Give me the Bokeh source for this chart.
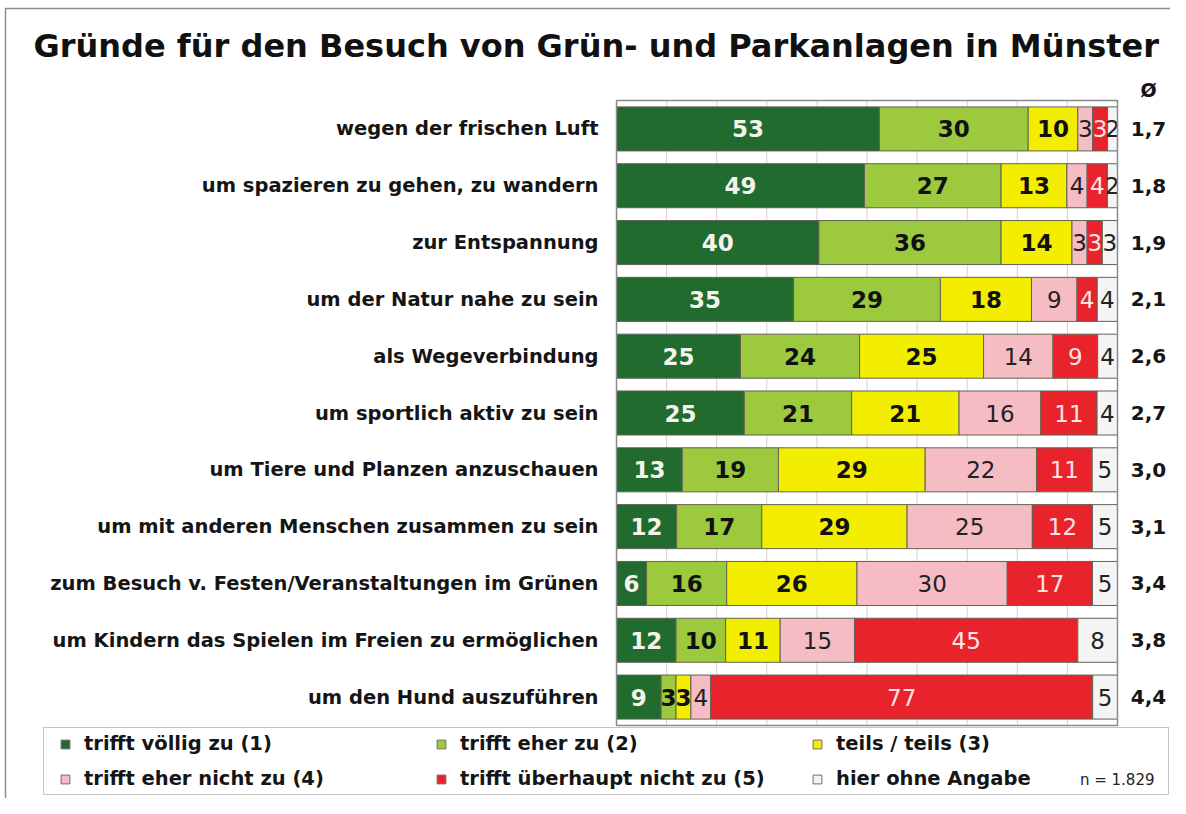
from bokeh.plotting import figure
from bokeh.models import ColumnDataSource, Range1d, Legend, LegendItem
from bokeh.core.properties import value
from bokeh.embed import file_html
from bokeh.resources import INLINE

# ---------------- data ----------------
title = "Gründe für den Besuch von Grün- und Parkanlagen in Münster"
categories = [
    "wegen der frischen Luft",
    "um spazieren zu gehen, zu wandern",
    "zur Entspannung",
    "um der Natur nahe zu sein",
    "als Wegeverbindung",
    "um sportlich aktiv zu sein",
    "um Tiere und Planzen anzuschauen",
    "um mit anderen Menschen zusammen zu sein",
    "zum Besuch v. Festen/Veranstaltungen im Grünen",
    "um Kindern das Spielen im Freien zu ermöglichen",
    "um den Hund auszuführen",
]
trifft_voellig = [53, 49, 40, 35, 25, 25, 13, 12, 6, 12, 9]
trifft_eher = [30, 27, 36, 29, 24, 21, 19, 17, 16, 10, 3]
teils_teils = [10, 13, 14, 18, 25, 21, 29, 29, 26, 11, 3]
eher_nicht = [3, 4, 3, 9, 14, 16, 22, 25, 30, 15, 4]
ueberhaupt_nicht = [3, 4, 3, 4, 9, 11, 11, 12, 17, 45, 77]
ohne_angabe = [2, 2, 3, 4, 4, 4, 5, 5, 5, 8, 5]
averages = ["1,7", "1,8", "1,9", "2,1", "2,6", "2,7", "3,0", "3,1", "3,4", "3,8", "4,4"]
series_labels = [
    "trifft völlig zu (1)",
    "trifft eher zu (2)",
    "teils / teils (3)",
    "trifft eher nicht zu (4)",
    "trifft überhaupt nicht zu (5)",
    "hier ohne Angabe",
]
avg_header = "Ø"
sample_note = "n = 1.829"
grid_ticks = [10, 20, 30, 40, 50, 60, 70, 80, 90]

series = [trifft_voellig, trifft_eher, teils_teils, eher_nicht, ueberhaupt_nicht, ohne_angabe]
colors = ["#216b2f", "#9cc93e", "#f3ee00", "#f5bcc4", "#e8232b", "#f4f4f4"]
text_colors = ["#f4f4ec", "#111111", "#111111", "#222222", "#fde4e4", "#222222"]
text_styles = ["bold", "bold", "bold", "normal", "normal", "normal"]

# ---------------- layout (pixels) ----------------
W, H = 1170, 798
FRAME_L, FRAME_R = 616, 1117          # pixel span of 0..100 %
FRAME_T, FRAME_B = 100, 725           # pixel span of the bar rows
n = len(categories)
ppu = (FRAME_R - FRAME_L) / 100.0
row_px = (FRAME_B - FRAME_T) / n

x_start = -FRAME_L / ppu
x_end = (W - FRAME_L) / ppu
y_top = n - 0.5 + FRAME_T / row_px
y_bot = -0.5 - (H - FRAME_B) / row_px


def dx(px):
    return x_start + px / ppu


def dy(py):
    return y_top - py / row_px


FONT = "DejaVu Sans"

p = figure(width=W, height=H, output_backend="svg", toolbar_location=None,
           x_range=Range1d(x_start, x_end), y_range=Range1d(y_bot, y_top),
           x_axis_location=None, y_axis_location=None, min_border=0,
           title=None, tools="")
p.outline_line_color = None
p.xgrid.visible = False
p.ygrid.visible = False
p.background_fill_color = "white"
p.border_fill_color = "white"

ys = [n - 1 - i for i in range(n)]

# outer picture border (only left/top edges fall inside the canvas)
p.quad(left=[dx(5)], right=[dx(1300)], top=[dy(8)], bottom=[dy(1000)], fill_color=None,
       line_color="#8c8c8c", line_width=1.5)

# grid lines behind bars
p.segment(x0=grid_ticks, x1=grid_ticks, y0=[-0.5] * len(grid_ticks), y1=[n - 0.5] * len(grid_ticks),
          line_color="#d9d0d0", line_width=1)

# stacked bars, normalised so each row spans 100 %
totals = [sum(s[i] for s in series) for i in range(n)]
cum = [0.0] * n
for k, s in enumerate(series):
    left = cum[:]
    right = [cum[i] + s[i] * 100.0 / totals[i] for i in range(n)]
    cum = right
    src = ColumnDataSource(dict(y=ys, left=left, right=right,
                                mid=[(l + r) / 2 for l, r in zip(left, right)],
                                txt=[str(v) for v in s]))
    p.hbar(y="y", left="left", right="right", height=0.775, source=src,
           fill_color=colors[k], line_color="#626254", line_width=1)
    p.text(x="mid", y="y", text="txt", source=src, text_align="center", text_baseline="middle",
           text_font=value(FONT), text_font_style=text_styles[k], text_font_size="23px",
           text_color=text_colors[k])

# frame around bar area
p.quad(left=[0], right=[100], bottom=[-0.5], top=[n - 0.5], fill_color=None,
       line_color="#8a8a8a", line_width=1.5)

# category labels
p.text(x=[dx(598)] * n, y=ys, text=categories, text_align="right", text_baseline="middle",
       text_font=value(FONT), text_font_style="bold", text_font_size="19.5px", text_color="#151515")

# averages
avg_x = dx(1148)
p.text(x=[avg_x] * n, y=ys, text=averages, text_align="center", text_baseline="middle",
       text_font=value(FONT), text_font_style="bold", text_font_size="20px", text_color="#151515")
p.text(x=[avg_x], y=[dy(89)], text=[avg_header], text_align="center", text_baseline="middle",
       text_font=value(FONT), text_font_style="bold", text_font_size="19px", text_color="#151515")

# title
p.text(x=[dx(33)], y=[dy(45)], text=[title], text_align="left", text_baseline="middle",
       text_font=value(FONT), text_font_style="bold", text_font_size="32px", text_color="#111111")

# legend (proxy square markers, not drawn themselves)
nan = float("nan")
renderers = []
for k in range(len(series_labels)):
    renderers.append(p.scatter(x=[nan], y=[nan], marker="square", fill_color=colors[k],
                               line_color="#6e6e6e", line_width=1))
# legend fills column by column -> order so rows read 1,2,3 / 4,5,6
order = [0, 3, 1, 4, 2, 5]
items = [LegendItem(label=series_labels[k], renderers=[renderers[k]]) for k in order]

legend = Legend(items=items, ncols=3, location=(43, 3),
                glyph_width=34, glyph_height=22, label_standoff=2, label_width=328,
                spacing=12, padding=4, margin=0,
                border_line_color="#8a8a8a", border_line_width=1.5,
                background_fill_alpha=0,
                label_text_font=FONT, label_text_font_style="bold",
                label_text_font_size="19.5px", label_text_color="#151515")
p.add_layout(legend)

p.text(x=[dx(1154)], y=[dy(779)], text=[sample_note], text_align="right", text_baseline="middle",
       text_font=value(FONT), text_font_size="15px", text_color="#222222")

open("out.html", "w").write(file_html(p, INLINE))
